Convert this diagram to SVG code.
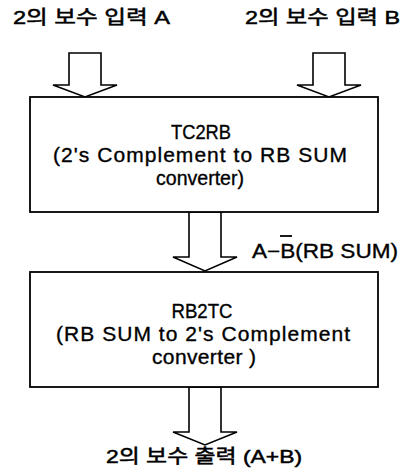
<svg xmlns="http://www.w3.org/2000/svg" width="404" height="468" viewBox="0 0 404 468">
<style>
.box{fill:#fff;stroke:#000;stroke-width:1.8}
.arr{fill:#fff;stroke:#000;stroke-width:1.6;stroke-linejoin:miter}
.t{font-family:"Liberation Sans","Noto Sans CJK KR",sans-serif;font-size:21px;fill:#000;text-anchor:middle;stroke:#000;stroke-width:0.35}
.k{font-family:"Liberation Sans","Noto Sans CJK KR",sans-serif;font-size:19px;fill:#000;stroke:#000;stroke-width:0.5}
</style>
<rect width="404" height="468" fill="#fff"/>
<g id="connectors">
<polygon class="arr" points="69,53 101,53 101,85 117,85 85,97 53,85 69,85"/>
<polygon class="arr" points="313,53 345,53 345,85 361,85 329,97 297,85 313,85"/>
<polygon class="arr" points="189,212 221,212 221,257 237,257 205,271 173,257 189,257"/>
<polygon class="arr" points="189,387 221,387 221,432 237,432 205,445 173,432 189,432"/>
</g>
<g id="inA"><text class="k" x="13" y="24" textLength="157" lengthAdjust="spacingAndGlyphs">2의 보수 입력 A</text></g>
<g id="inB"><text class="k" x="245" y="24" textLength="155" lengthAdjust="spacingAndGlyphs">2의 보수 입력 B</text></g>
<g id="tc2rb">
<rect class="box" x="30" y="97" width="348" height="115"/>
<text class="t" x="201" y="139" textLength="60" lengthAdjust="spacingAndGlyphs">TC2RB</text>
<text class="t" x="200" y="162" textLength="294">(2's Complement to RB SUM</text>
<text class="t" x="200" y="185" textLength="88" lengthAdjust="spacingAndGlyphs">converter)</text>
</g>
<g id="mid">
<text class="k" x="252" y="258" textLength="146" lengthAdjust="spacingAndGlyphs" style="font-size:20px;stroke-width:0.35">A−B(RB SUM)</text>
<line x1="280" y1="236" x2="292" y2="236" stroke="#000" stroke-width="1.8"/>
</g>
<g id="rb2tc">
<rect class="box" x="30" y="272" width="348" height="115"/>
<text class="t" x="202" y="318" textLength="61" lengthAdjust="spacingAndGlyphs">RB2TC</text>
<text class="t" x="203" y="341" textLength="294">(RB SUM to 2's Complement</text>
<text class="t" x="204" y="364" textLength="104">converter )</text>
</g>
<g id="out"><text class="k" x="106" y="463" textLength="196" lengthAdjust="spacingAndGlyphs">2의 보수 출력 (A+B)</text></g>
</svg>
